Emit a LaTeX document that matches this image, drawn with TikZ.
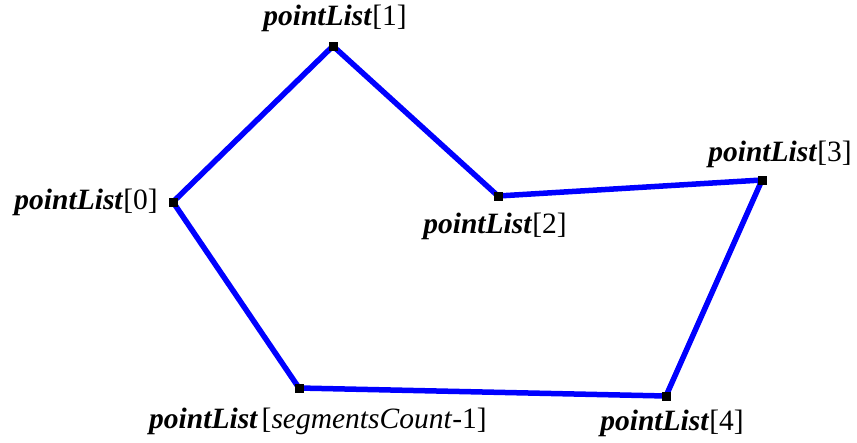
\documentclass[tikz,border=0pt]{standalone}
\usepackage{fontspec}
\setmainfont{Liberation Serif}
\newcommand{\plist}{\textbf{\textit{pointList}}}
\tikzset{
  vertex/.style={draw=none, fill=black, rectangle, minimum size=9pt, inner sep=0pt},
  edge/.style={draw=blue, line width=5.5pt},
  tag/.style={font=\fontsize{29.5}{34}\selectfont, inner sep=0pt}
}
\begin{document}
\begin{tikzpicture}[x=1pt, y=-1pt]
\useasboundingbox (0,0) rectangle (857,442);
\coordinate (p0) at (173,202);
\coordinate (p1) at (333,46);
\coordinate (p2) at (498,196);
\coordinate (p3) at (762,180);
\coordinate (p4) at (666,396);
\coordinate (pn) at (299,388);
\draw[edge] (p0) -- (p1) -- (p2) -- (p3) -- (p4) -- (pn) -- cycle;
\foreach \p in {p0,p1,p2,p3,p4,pn}
  \node[vertex] (m\p) at (\p) {};
\node[tag, anchor=base east] (t0) at (158,209) {\plist[0]};
\node[tag, anchor=base] (t1) at (335,25) {\plist[1]};
\node[tag, anchor=base] (t2) at (495,233) {\plist[2]};
\node[tag, anchor=base] (t3) at (780,161) {\plist[3]};
\node[tag, anchor=base] (t4) at (672,430) {\plist[4]};
\node[tag, anchor=base] (tn) at (318,428) {\plist\hspace{0.12em}[\textit{segmentsCount}-1]};
\end{tikzpicture}
\end{document}
